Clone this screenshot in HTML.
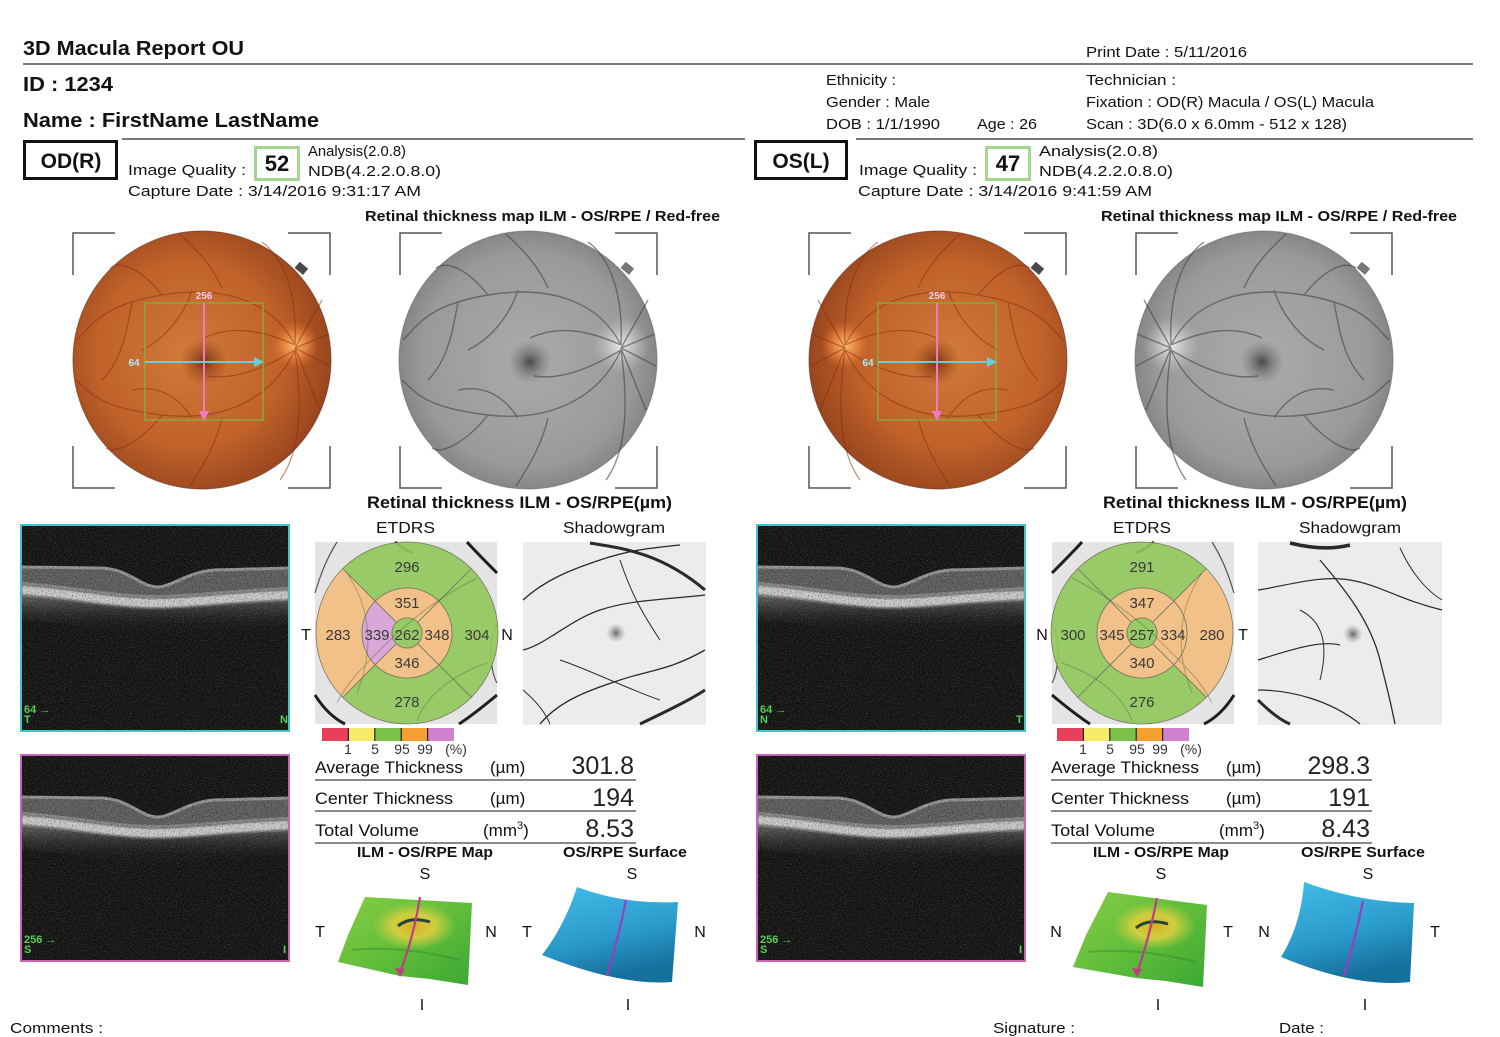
<!DOCTYPE html>
<html><head><meta charset="utf-8"><style>html,body{margin:0;padding:0;background:#fff}svg{display:block}</style></head><body>
<svg width="1500" height="1037" viewBox="0 0 1500 1037" xmlns="http://www.w3.org/2000/svg" font-family="'Liberation Sans', Arial, sans-serif" fill="#111">
<defs>
<radialGradient id="fg" cx=".45" cy=".48" r=".55"><stop offset="0" stop-color="#d27a3c"/><stop offset=".65" stop-color="#c0622a"/><stop offset="1" stop-color="#9a461e"/></radialGradient>
<radialGradient id="disc"><stop offset="0" stop-color="#ffc070"/><stop offset=".5" stop-color="#ef9048" stop-opacity=".75"/><stop offset="1" stop-color="#e07030" stop-opacity="0"/></radialGradient>
<radialGradient id="mac"><stop offset="0" stop-color="#6a2a0e" stop-opacity=".85"/><stop offset="1" stop-color="#8a3a14" stop-opacity="0"/></radialGradient>
<radialGradient id="rf" cx=".5" cy=".5" r=".55"><stop offset="0" stop-color="#ababab"/><stop offset=".75" stop-color="#9a9a9a"/><stop offset="1" stop-color="#7c7c7c"/></radialGradient>
<radialGradient id="rfdisc"><stop offset="0" stop-color="#eeeeee"/><stop offset="1" stop-color="#c8c8c8" stop-opacity="0"/></radialGradient>
<radialGradient id="rfmac"><stop offset="0" stop-color="#4a4a4a"/><stop offset="1" stop-color="#777" stop-opacity="0"/></radialGradient>
<radialGradient id="spot"><stop offset="0" stop-color="#666"/><stop offset="1" stop-color="#aaa" stop-opacity="0"/></radialGradient>
<linearGradient id="chor" x1="0" y1="0" x2="0" y2="1"><stop offset="0" stop-color="#6a6a6a"/><stop offset="1" stop-color="#1a1a1a" stop-opacity="0"/></linearGradient>
<linearGradient id="ilm" x1="0" y1="0" x2="1" y2="1"><stop offset="0" stop-color="#86cc44"/><stop offset=".5" stop-color="#62be3a"/><stop offset="1" stop-color="#3aa834"/></linearGradient>
<radialGradient id="yel"><stop offset="0" stop-color="#d8b020"/><stop offset=".5" stop-color="#e2d040" stop-opacity=".85"/><stop offset="1" stop-color="#c8d040" stop-opacity="0"/></radialGradient>
<linearGradient id="surf" x1="0" y1="0" x2=".3" y2="1"><stop offset="0" stop-color="#44bce8"/><stop offset=".6" stop-color="#2a9ccc"/><stop offset="1" stop-color="#16709e"/></linearGradient>
<filter id="speck" x="0" y="0" width="1" height="1"><feTurbulence type="fractalNoise" baseFrequency="0.85" numOctaves="1" seed="7"/><feColorMatrix type="matrix" values="0 0 0 0 1 0 0 0 0 1 0 0 0 0 1 1.6 0 0 0 -0.75"/></filter>
<filter id="dspeck" x="0" y="0" width="1" height="1"><feTurbulence type="fractalNoise" baseFrequency="0.7" numOctaves="1" seed="3"/><feColorMatrix type="matrix" values="0 0 0 0 0 0 0 0 0 0 0 0 0 0 0 1.8 0 0 0 -0.7"/></filter>
<filter id="blur1"><feGaussianBlur stdDeviation="1"/></filter>
<g id="ves" fill="none">
<path d="M93,-15 C70,-60 20,-75 -40,-65 S-110,-35 -125,-20"/>
<path d="M93,-10 C70,40 20,62 -40,55 S-110,35 -126,20"/>
<path d="M93,-15 C95,-60 85,-100 60,-118"/>
<path d="M93,-10 C100,40 100,90 78,120"/>
<path d="M93,-15 C60,-30 30,-35 2,-22"/>
<path d="M93,-10 C60,10 30,20 6,16"/>
<path d="M-40,-65 C-60,-90 -80,-100 -92,-92"/>
<path d="M-40,55 C-60,80 -85,95 -96,88"/>
<path d="M20,-72 C10,-95 -5,-110 -22,-126"/>
<path d="M20,58 C15,80 5,100 -12,126"/>
<path d="M93,-12 L127,-26 M93,-12 L128,6 M93,-12 L120,-60 M93,-12 L118,50"/>
<path d="M-70,-58 C-75,-30 -80,0 -100,20"/>
<path d="M-10,-70 C-20,-40 -40,-20 -60,-10"/>
<path d="M-10,58 C-25,35 -45,25 -70,30"/>
</g>
<g id="oct">
<rect x="0" y="0" width="268" height="206" fill="#151515"/>
<path d="M0,95 C50,98 90,108 136,108 C170,108 210,102 268,100 L268,75 C210,77 170,83 136,83 C90,83 50,73 0,70 Z" fill="url(#chor)"/>
<path d="M0,42 L80,43 C108,44 118,61 136,62 C151,62 165,47 194,45 L268,43 L268,65 C210,67 170,73 136,73 C90,73 50,63 0,60 Z" fill="#626262"/>
<path d="M0,42 L80,43 C108,44 118,61 136,62 C151,62 165,47 194,45 L268,43" fill="none" stroke="#9a9a9a" stroke-width="3"/>
<path d="M0,58 C50,61 90,71 136,71 C170,71 210,65 268,63" fill="none" stroke="#8a8a8a" stroke-width="2"/>
<path d="M0,60 C50,63 90,73 136,73 C170,73 210,67 268,65 L268,75 C210,77 170,83 136,83 C90,83 50,73 0,70 Z" fill="#d0d0d0" filter="url(#blur1)"/>
<rect x="0" y="0" width="268" height="206" fill="#000" filter="url(#dspeck)" opacity=".45"/>
<rect x="0" y="0" width="268" height="206" fill="#fff" filter="url(#speck)" opacity=".35"/>
</g>
<g id="etbg">
<rect x="-92" y="-91" width="182" height="182" fill="#e4e4e4"/>
<g fill="none" stroke="#1e1e1e" stroke-width="3">
<path d="M60,-91 C70,-80 80,-70 90,-60"/><path d="M-92,62 C-82,78 -72,86 -62,91"/><path d="M52,91 C66,82 78,72 90,62"/><path d="M-12,-91 C-6,-86 0,-82 6,-80"/><path d="M-92,-40 C-86,-60 -80,-75 -70,-91" stroke-width="1.2" stroke="#555"/><path d="M90,-10 C80,10 84,40 90,50" stroke-width="1.2" stroke="#555"/>
</g>
</g>
</defs>

<!-- HEADER -->
<text x="23" y="55" font-size="20" font-weight="bold" textLength="221" lengthAdjust="spacingAndGlyphs">3D Macula Report OU</text>
<text x="1086" y="57" font-size="15" textLength="161" lengthAdjust="spacingAndGlyphs">Print Date : 5/11/2016</text>
<line x1="23" y1="64" x2="1473" y2="64" stroke="#7a7a7a" stroke-width="2"/>
<text x="23" y="91" font-size="20" font-weight="bold" textLength="90" lengthAdjust="spacingAndGlyphs">ID : 1234</text>
<text x="23" y="127" font-size="20" font-weight="bold" textLength="296" lengthAdjust="spacingAndGlyphs">Name : FirstName LastName</text>
<g font-size="15">
<text x="826" y="85" textLength="70" lengthAdjust="spacingAndGlyphs">Ethnicity :</text>
<text x="826" y="107" textLength="104" lengthAdjust="spacingAndGlyphs">Gender : Male</text>
<text x="826" y="129" textLength="114" lengthAdjust="spacingAndGlyphs">DOB : 1/1/1990</text>
<text x="977" y="129" textLength="60" lengthAdjust="spacingAndGlyphs">Age : 26</text>
<text x="1086" y="85" textLength="90" lengthAdjust="spacingAndGlyphs">Technician :</text>
<text x="1086" y="107" textLength="288" lengthAdjust="spacingAndGlyphs">Fixation : OD(R) Macula / OS(L) Macula</text>
<text x="1086" y="129" textLength="261" lengthAdjust="spacingAndGlyphs">Scan : 3D(6.0 x 6.0mm - 512 x 128)</text>
</g>
<line x1="122" y1="139" x2="745" y2="139" stroke="#7a7a7a" stroke-width="2"/>
<line x1="856" y1="139" x2="1473" y2="139" stroke="#7a7a7a" stroke-width="2"/>

<!-- OD header -->
<rect x="24.5" y="141.5" width="92" height="37" fill="none" stroke="#111" stroke-width="3"/>
<text x="71" y="168" font-size="21" font-weight="bold" text-anchor="middle">OD(R)</text>
<text x="128" y="175" font-size="15" textLength="118" lengthAdjust="spacingAndGlyphs">Image Quality :</text>
<rect x="255.5" y="147.5" width="43" height="32" fill="none" stroke="#a6d494" stroke-width="3"/>
<text x="277" y="171" font-size="22" font-weight="bold" text-anchor="middle">52</text>
<text x="308" y="156" font-size="15" textLength="98" lengthAdjust="spacingAndGlyphs">Analysis(2.0.8)</text>
<text x="308" y="176" font-size="15" textLength="133" lengthAdjust="spacingAndGlyphs">NDB(4.2.2.0.8.0)</text>
<text x="128" y="196" font-size="15" textLength="293" lengthAdjust="spacingAndGlyphs">Capture Date : 3/14/2016 9:31:17 AM</text>

<!-- OS header -->
<rect x="755.5" y="141.5" width="91" height="37" fill="none" stroke="#111" stroke-width="3"/>
<text x="801" y="168" font-size="21" font-weight="bold" text-anchor="middle">OS(L)</text>
<text x="859" y="175" font-size="15" textLength="118" lengthAdjust="spacingAndGlyphs">Image Quality :</text>
<rect x="986.5" y="147.5" width="43" height="32" fill="none" stroke="#a6d494" stroke-width="3"/>
<text x="1008" y="171" font-size="22" font-weight="bold" text-anchor="middle">47</text>
<text x="1039" y="156" font-size="15" textLength="119" lengthAdjust="spacingAndGlyphs">Analysis(2.0.8)</text>
<text x="1039" y="176" font-size="15" textLength="134" lengthAdjust="spacingAndGlyphs">NDB(4.2.2.0.8.0)</text>
<text x="858" y="196" font-size="15" textLength="294" lengthAdjust="spacingAndGlyphs">Capture Date : 3/14/2016 9:41:59 AM</text>

<text x="365" y="221" font-size="15" font-weight="bold" textLength="355" lengthAdjust="spacingAndGlyphs">Retinal thickness map ILM - OS/RPE / Red-free</text>
<text x="1101" y="221" font-size="15" font-weight="bold" textLength="356" lengthAdjust="spacingAndGlyphs">Retinal thickness map ILM - OS/RPE / Red-free</text>

<!-- brackets -->
<g fill="none" stroke="#555" stroke-width="1.5">
<path d="M73,275 V233 H115 M288,233 H330 V275 M73,446 V488 H115 M288,488 H330 V446"/>
<path d="M400,275 V233 H442 M615,233 H657 V275 M400,446 V488 H442 M615,488 H657 V446"/>
<path d="M809,275 V233 H851 M1024,233 H1066 V275 M809,446 V488 H851 M1024,488 H1066 V446"/>
<path d="M1136,275 V233 H1178 M1350,233 H1392 V275 M1136,446 V488 H1178 M1350,488 H1392 V446"/>
</g>

<!-- Left color fundus -->
<g transform="translate(202,360)">
<circle r="129" fill="url(#fg)"/>
<circle cx="93" cy="-15" r="24" fill="url(#disc)"/>
<circle cx="2" cy="2" r="24" fill="url(#mac)"/>
<use href="#ves" stroke="#8a2a10" stroke-width="1.3" opacity=".5"/>
<circle r="129" fill="none" stroke="#5a3020" stroke-width="1" opacity=".6"/>
</g>
<rect x="296" y="264" width="11" height="8" fill="#4a4a4a" transform="rotate(40 301 268)"/>
<rect x="145" y="303" width="118" height="117" fill="none" stroke="#8aa83a" stroke-width="1.5"/>
<line x1="204" y1="303" x2="204" y2="414" stroke="#f07ac0" stroke-width="2"/>
<polygon points="204,421 199,411 209,411" fill="#f07ac0"/>
<line x1="145" y1="362" x2="256" y2="362" stroke="#66d0d8" stroke-width="2"/>
<polygon points="264,362 254,357 254,367" fill="#66d0d8"/>
<text x="204" y="299" font-size="10" font-weight="bold" fill="#f4c8e4" text-anchor="middle">256</text>
<text x="134" y="366" font-size="10" font-weight="bold" fill="#a8eef4" text-anchor="middle">64</text>

<!-- Left red-free -->
<g transform="translate(528,360)">
<circle r="129" fill="url(#rf)"/>
<circle cx="93" cy="-15" r="28" fill="url(#rfdisc)"/>
<circle cx="2" cy="2" r="22" fill="url(#rfmac)"/>
<use href="#ves" stroke="#444" stroke-width="1.4" opacity=".6"/>
<circle r="129" fill="none" stroke="#555" stroke-width="1" opacity=".5"/>
</g>
<rect x="622" y="264" width="11" height="8" fill="#777" transform="rotate(40 627 268)"/>

<!-- Right color fundus (mirrored) -->
<g transform="translate(938,360) scale(-1,1)">
<circle r="129" fill="url(#fg)"/>
<circle cx="93" cy="-15" r="24" fill="url(#disc)"/>
<circle cx="2" cy="2" r="24" fill="url(#mac)"/>
<use href="#ves" stroke="#8a2a10" stroke-width="1.3" opacity=".5"/>
<circle r="129" fill="none" stroke="#5a3020" stroke-width="1" opacity=".6"/>
</g>
<rect x="1032" y="264" width="11" height="8" fill="#4a4a4a" transform="rotate(40 1037 268)"/>
<rect x="878" y="303" width="118" height="117" fill="none" stroke="#8aa83a" stroke-width="1.5"/>
<line x1="937" y1="303" x2="937" y2="414" stroke="#f07ac0" stroke-width="2"/>
<polygon points="937,421 932,411 942,411" fill="#f07ac0"/>
<line x1="878" y1="362" x2="989" y2="362" stroke="#66d0d8" stroke-width="2"/>
<polygon points="997,362 987,357 987,367" fill="#66d0d8"/>
<text x="937" y="299" font-size="10" font-weight="bold" fill="#f4c8e4" text-anchor="middle">256</text>
<text x="868" y="366" font-size="10" font-weight="bold" fill="#a8eef4" text-anchor="middle">64</text>

<!-- Right red-free -->
<g transform="translate(1264,360) scale(-1,1)">
<circle r="129" fill="url(#rf)"/>
<circle cx="93" cy="-15" r="28" fill="url(#rfdisc)"/>
<circle cx="2" cy="2" r="22" fill="url(#rfmac)"/>
<use href="#ves" stroke="#444" stroke-width="1.4" opacity=".6"/>
<circle r="129" fill="none" stroke="#555" stroke-width="1" opacity=".5"/>
</g>
<rect x="1358" y="264" width="11" height="8" fill="#777" transform="rotate(40 1363 268)"/>

<!-- Section titles -->
<text x="367" y="508" font-size="17" font-weight="bold" textLength="305" lengthAdjust="spacingAndGlyphs">Retinal thickness ILM - OS/RPE(µm)</text>
<text x="1103" y="508" font-size="17" font-weight="bold" textLength="304" lengthAdjust="spacingAndGlyphs">Retinal thickness ILM - OS/RPE(µm)</text>
<g font-size="16">
<text x="376" y="533" textLength="59" lengthAdjust="spacingAndGlyphs">ETDRS</text>
<text x="563" y="533" textLength="102" lengthAdjust="spacingAndGlyphs">Shadowgram</text>
<text x="1113" y="533" textLength="58" lengthAdjust="spacingAndGlyphs">ETDRS</text>
<text x="1299" y="533" textLength="102" lengthAdjust="spacingAndGlyphs">Shadowgram</text>
</g>

<!-- OCT scans -->
<use href="#oct" transform="translate(21,525)"/>
<rect x="21" y="525" width="268" height="206" fill="none" stroke="#40c4c8" stroke-width="2"/>
<use href="#oct" transform="translate(21,755)"/>
<rect x="21" y="755" width="268" height="206" fill="none" stroke="#c466b4" stroke-width="2"/>
<use href="#oct" transform="translate(757,525)"/>
<rect x="757" y="525" width="268" height="206" fill="none" stroke="#40c4c8" stroke-width="2"/>
<use href="#oct" transform="translate(757,755)"/>
<rect x="757" y="755" width="268" height="206" fill="none" stroke="#c466b4" stroke-width="2"/>
<g font-size="11" font-weight="bold" fill="#52d052">
<text x="24" y="713">64 →</text><text x="24" y="723">T</text><text x="280" y="723">N</text>
<text x="24" y="943">256 →</text><text x="24" y="953">S</text><text x="283" y="953">I</text>
<text x="760" y="713">64 →</text><text x="760" y="723">N</text><text x="1016" y="723">T</text>
<text x="760" y="943">256 →</text><text x="760" y="953">S</text><text x="1019" y="953">I</text>
</g>

<!-- Left ETDRS -->
<g transform="translate(407,633)">
<use href="#etbg"/>
<g opacity=".92" stroke="#6f6f55" stroke-width=".8">
<path d="M-64.35,-64.35 A91,91 0 0 1 64.35,-64.35 L31.82,-31.82 A45,45 0 0 0 -31.82,-31.82 Z" fill="#92c85e"/>
<path d="M64.35,-64.35 A91,91 0 0 1 64.35,64.35 L31.82,31.82 A45,45 0 0 0 31.82,-31.82 Z" fill="#92c85e"/>
<path d="M64.35,64.35 A91,91 0 0 1 -64.35,64.35 L-31.82,31.82 A45,45 0 0 0 31.82,31.82 Z" fill="#92c85e"/>
<path d="M-64.35,64.35 A91,91 0 0 1 -64.35,-64.35 L-31.82,-31.82 A45,45 0 0 0 -31.82,31.82 Z" fill="#f4bd82"/>
<path d="M-31.82,-31.82 A45,45 0 0 1 31.82,-31.82 L10.61,-10.61 A15,15 0 0 0 -10.61,-10.61 Z" fill="#f4bd82"/>
<path d="M31.82,-31.82 A45,45 0 0 1 31.82,31.82 L10.61,10.61 A15,15 0 0 0 10.61,-10.61 Z" fill="#f4bd82"/>
<path d="M31.82,31.82 A45,45 0 0 1 -31.82,31.82 L-10.61,10.61 A15,15 0 0 0 10.61,10.61 Z" fill="#f4bd82"/>
<path d="M-31.82,31.82 A45,45 0 0 1 -31.82,-31.82 L-10.61,-10.61 A15,15 0 0 0 -10.61,10.61 Z" fill="#d9a3d8"/>
<circle r="15" fill="#92c85e"/>
</g>
<g fill="none" stroke="#3a5a2a" stroke-width="1.1" opacity=".35">
<path d="M70,-55 C40,-40 10,-20 -20,10 S-60,50 -70,70"/><path d="M-60,-60 C-40,-30 -30,10 -50,60"/><path d="M80,30 C50,40 20,60 10,88"/>
</g>
<g font-size="15" fill="#3a3a3a" text-anchor="middle">
<text x="0" y="-61">296</text><text x="0" y="-25">351</text>
<text x="-69" y="7">283</text><text x="-30" y="7">339</text><text x="0" y="7">262</text><text x="30" y="7">348</text><text x="70" y="7">304</text>
<text x="0" y="35">346</text><text x="0" y="74">278</text>
</g>
<g font-size="16" text-anchor="middle"><text x="-101" y="7">T</text><text x="100" y="7">N</text></g>
</g>

<!-- Right ETDRS -->
<g transform="translate(1142,633)">
<use href="#etbg" transform="scale(-1,1)"/>
<g opacity=".92" stroke="#6f6f55" stroke-width=".8">
<path d="M-64.35,-64.35 A91,91 0 0 1 64.35,-64.35 L31.82,-31.82 A45,45 0 0 0 -31.82,-31.82 Z" fill="#92c85e"/>
<path d="M64.35,-64.35 A91,91 0 0 1 64.35,64.35 L31.82,31.82 A45,45 0 0 0 31.82,-31.82 Z" fill="#f4bd82"/>
<path d="M64.35,64.35 A91,91 0 0 1 -64.35,64.35 L-31.82,31.82 A45,45 0 0 0 31.82,31.82 Z" fill="#92c85e"/>
<path d="M-64.35,64.35 A91,91 0 0 1 -64.35,-64.35 L-31.82,-31.82 A45,45 0 0 0 -31.82,31.82 Z" fill="#92c85e"/>
<path d="M-31.82,-31.82 A45,45 0 0 1 31.82,-31.82 L10.61,-10.61 A15,15 0 0 0 -10.61,-10.61 Z" fill="#f4bd82"/>
<path d="M31.82,-31.82 A45,45 0 0 1 31.82,31.82 L10.61,10.61 A15,15 0 0 0 10.61,-10.61 Z" fill="#f4bd82"/>
<path d="M31.82,31.82 A45,45 0 0 1 -31.82,31.82 L-10.61,10.61 A15,15 0 0 0 10.61,10.61 Z" fill="#f4bd82"/>
<path d="M-31.82,31.82 A45,45 0 0 1 -31.82,-31.82 L-10.61,-10.61 A15,15 0 0 0 -10.61,10.61 Z" fill="#f4bd82"/>
<circle r="15" fill="#92c85e"/>
</g>
<g fill="none" stroke="#3a5a2a" stroke-width="1.1" opacity=".35">
<path d="M-70,-55 C-40,-40 -10,-20 20,10 S60,50 70,70"/><path d="M60,-60 C40,-30 30,10 50,60"/><path d="M-80,30 C-50,40 -20,60 -10,88"/>
</g>
<g font-size="15" fill="#3a3a3a" text-anchor="middle">
<text x="0" y="-61">291</text><text x="0" y="-25">347</text>
<text x="-69" y="7">300</text><text x="-30" y="7">345</text><text x="0" y="7">257</text><text x="31" y="7">334</text><text x="70" y="7">280</text>
<text x="0" y="35">340</text><text x="0" y="74">276</text>
</g>
<g font-size="16" text-anchor="middle"><text x="-100" y="7">N</text><text x="101" y="7">T</text></g>
</g>

<!-- Shadowgrams -->
<g>
<rect x="523" y="542" width="183" height="183" fill="#ececec"/>
<circle cx="616" cy="633" r="10" fill="url(#spot)"/>
<g fill="none" stroke="#2a2a2a">
<path d="M590,543 C620,548 660,552 705,590" stroke-width="3"/>
<path d="M640,724 C665,712 690,700 705,690" stroke-width="3"/>
<path d="M523,600 C545,580 570,570 600,560 S650,548 680,545" stroke-width="1.3"/>
<path d="M523,650 C545,645 570,620 600,610 S660,600 705,595" stroke-width="1.2"/>
<path d="M540,724 C560,700 590,690 620,680 S670,670 705,650" stroke-width="1.3"/>
<path d="M560,660 C590,670 630,690 660,700" stroke-width="1"/>
<path d="M620,560 C630,590 640,610 660,640" stroke-width="1"/>
<path d="M523,690 C535,700 545,712 550,724" stroke-width="1"/>
</g>
</g>
<g>
<rect x="1258" y="542" width="184" height="183" fill="#ececec"/>
<circle cx="1353" cy="634" r="10" fill="url(#spot)"/>
<g fill="none" stroke="#2a2a2a">
<path d="M1290,543 C1310,548 1330,550 1350,545" stroke-width="3.5"/>
<path d="M1258,700 C1270,712 1280,720 1290,724" stroke-width="3"/>
<path d="M1320,560 C1345,590 1370,620 1380,660 S1390,700 1395,724" stroke-width="1.3"/>
<path d="M1258,590 C1290,585 1320,575 1350,580 S1400,600 1442,610" stroke-width="1.2"/>
<path d="M1258,660 C1290,650 1320,640 1340,645" stroke-width="1.2"/>
<path d="M1258,690 C1290,690 1330,700 1360,724" stroke-width="1.2"/>
<path d="M1400,548 C1410,570 1425,590 1442,600" stroke-width="1"/>
<path d="M1300,610 C1320,620 1330,640 1320,680" stroke-width="1"/>
</g>
</g>

<!-- Legends -->
<g id="leg">
<rect x="322" y="728" width="26.4" height="13" fill="#e8405a"/>
<rect x="348.4" y="728" width="26.4" height="13" fill="#f5ea6a"/>
<rect x="374.8" y="728" width="26.4" height="13" fill="#7cc24a"/>
<rect x="401.2" y="728" width="26.4" height="13" fill="#f4a030"/>
<rect x="427.6" y="728" width="26.4" height="13" fill="#d080d0"/>
<path d="M348.4,728 V741 M374.8,728 V741 M401.2,728 V741 M427.6,728 V741" stroke="#222" stroke-width="1.2"/>
<g font-size="14" fill="#333" text-anchor="middle">
<text x="348" y="754">1</text><text x="375" y="754">5</text><text x="402" y="754">95</text><text x="425" y="754">99</text><text x="456" y="754">(%)</text>
</g>
</g>
<use href="#leg" transform="translate(735,0)"/>

<!-- Left table -->
<g>
<text x="315" y="773" font-size="17" textLength="148" lengthAdjust="spacingAndGlyphs">Average Thickness</text>
<text x="490" y="773" font-size="17">(µm)</text>
<line x1="315" y1="780" x2="636" y2="780" stroke="#888" stroke-width="2"/>
<text x="315" y="804" font-size="17" textLength="138" lengthAdjust="spacingAndGlyphs">Center Thickness</text>
<text x="490" y="804" font-size="17">(µm)</text>
<line x1="315" y1="811" x2="636" y2="811" stroke="#888" stroke-width="2"/>
<text x="315" y="836" font-size="17" textLength="104" lengthAdjust="spacingAndGlyphs">Total Volume</text>
<text x="483" y="836" font-size="17">(mm<tspan font-size="11" dy="-7">3</tspan><tspan dy="7">)</tspan></text>
<line x1="315" y1="843" x2="636" y2="843" stroke="#888" stroke-width="2"/>
<text x="425" y="857" font-size="15" font-weight="bold" text-anchor="middle" textLength="136" lengthAdjust="spacingAndGlyphs">ILM - OS/RPE Map</text>
<text x="625" y="857" font-size="15" font-weight="bold" text-anchor="middle" textLength="124" lengthAdjust="spacingAndGlyphs">OS/RPE Surface</text>
<g font-size="16" text-anchor="middle">
<text x="425" y="879">S</text><text x="632" y="879">S</text>
<text x="422" y="1010">I</text><text x="628" y="1010">I</text>
</g>
<path d="M365,897 L472,903 L468,985 L430,979 L400,976 L338,962 L348,935 Z" fill="url(#ilm)"/>
<ellipse cx="414" cy="926" rx="42" ry="24" fill="url(#yel)"/>
<path d="M398,926 Q410,916 430,922" fill="none" stroke="#23463a" stroke-width="3"/>
<path d="M352,950 Q400,945 460,960" fill="none" stroke="#3a8a30" stroke-width="2" opacity=".5"/>
<path d="M420,897 Q414,935 401,970" fill="none" stroke="#c03c84" stroke-width="2.2"/>
<polygon points="400,977 395,968 405,969" fill="#c03c84"/>
<path d="M577,887 Q625,905 678,902 L672,982 Q620,986 542,955 Q565,925 577,887 Z" fill="url(#surf)"/>
<path d="M626,900 Q618,940 607,976" fill="none" stroke="#9a3cc0" stroke-width="2.2"/>
</g>
<g font-size="25" fill="#222" text-anchor="end">
<text x="634" y="774">301.8</text><text x="634" y="806">194</text><text x="634" y="837">8.53</text>
<text x="1370" y="774">298.3</text><text x="1370" y="806">191</text><text x="1370" y="837">8.43</text>
</g>
<g font-size="16" text-anchor="middle">
<text x="320" y="937">T</text><text x="491" y="937">N</text><text x="527" y="937">T</text><text x="700" y="937">N</text>
<text x="1056" y="937">N</text><text x="1228" y="937">T</text><text x="1264" y="937">N</text><text x="1435" y="937">T</text>
</g>

<!-- Right table -->
<g transform="translate(736,0)">
<text x="315" y="773" font-size="17" textLength="148" lengthAdjust="spacingAndGlyphs">Average Thickness</text>
<text x="490" y="773" font-size="17">(µm)</text>
<line x1="315" y1="780" x2="636" y2="780" stroke="#888" stroke-width="2"/>
<text x="315" y="804" font-size="17" textLength="138" lengthAdjust="spacingAndGlyphs">Center Thickness</text>
<text x="490" y="804" font-size="17">(µm)</text>
<line x1="315" y1="811" x2="636" y2="811" stroke="#888" stroke-width="2"/>
<text x="315" y="836" font-size="17" textLength="104" lengthAdjust="spacingAndGlyphs">Total Volume</text>
<text x="483" y="836" font-size="17">(mm<tspan font-size="11" dy="-7">3</tspan><tspan dy="7">)</tspan></text>
<line x1="315" y1="843" x2="636" y2="843" stroke="#888" stroke-width="2"/>
<text x="425" y="857" font-size="15" font-weight="bold" text-anchor="middle" textLength="136" lengthAdjust="spacingAndGlyphs">ILM - OS/RPE Map</text>
<text x="627" y="857" font-size="15" font-weight="bold" text-anchor="middle" textLength="124" lengthAdjust="spacingAndGlyphs">OS/RPE Surface</text>
<g font-size="16" text-anchor="middle">
<text x="425" y="879">S</text><text x="632" y="879">S</text>
<text x="422" y="1010">I</text><text x="629" y="1010">I</text>
</g>
<path d="M372,892 L471,905 L467,987 L430,981 L400,978 L337,967 L350,935 Z" fill="url(#ilm)"/>
<ellipse cx="418" cy="926" rx="42" ry="24" fill="url(#yel)"/>
<path d="M400,928 Q412,918 432,924" fill="none" stroke="#23463a" stroke-width="3"/>
<path d="M352,952 Q400,947 460,962" fill="none" stroke="#3a8a30" stroke-width="2" opacity=".5"/>
<path d="M421,898 Q414,935 402,970" fill="none" stroke="#c03c84" stroke-width="2.2"/>
<polygon points="401,977 396,968 406,969" fill="#c03c84"/>
<path d="M568,882 Q622,902 678,903 L674,982 Q620,988 545,957 Q565,925 568,882 Z" fill="url(#surf)"/>
<path d="M627,901 Q619,940 608,976" fill="none" stroke="#9a3cc0" stroke-width="2.2"/>
</g>

<!-- Footer -->
<g font-size="15">
<text x="10" y="1033" textLength="93" lengthAdjust="spacingAndGlyphs">Comments :</text>
<text x="993" y="1033" textLength="82" lengthAdjust="spacingAndGlyphs">Signature :</text>
<text x="1279" y="1033" textLength="45" lengthAdjust="spacingAndGlyphs">Date :</text>
</g>
</svg>
</body></html>
